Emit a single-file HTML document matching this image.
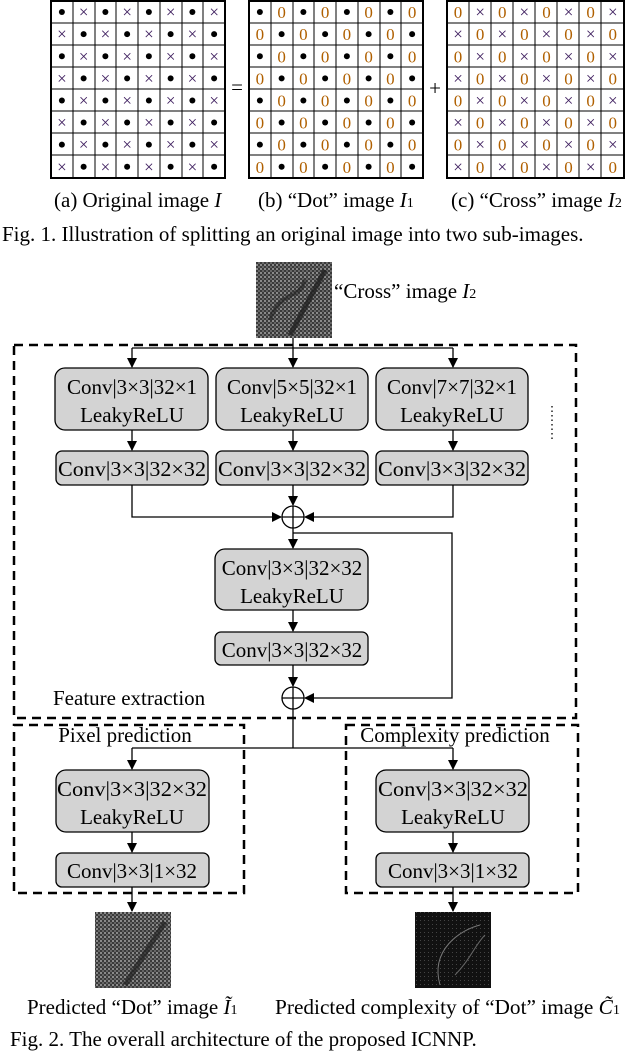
<!DOCTYPE html>
<html><head><style>
body{margin:0;background:#fff;}
svg{display:block;font-family:"Liberation Serif",serif;}
</style></head><body>
<svg width="626" height="1052" viewBox="0 0 626 1052" xmlns="http://www.w3.org/2000/svg">
<defs>
<marker id="a" markerWidth="10" markerHeight="10" refX="9" refY="5" orient="auto" markerUnits="userSpaceOnUse"><path d="M0,0 L10,5 L0,10 z" fill="#000"/></marker>
<pattern id="n1" width="4" height="4" patternUnits="userSpaceOnUse"><rect width="4" height="4" fill="#3a3a3a"/><rect width="2" height="2" fill="#8a8a8a"/><rect x="2" y="2" width="2" height="2" fill="#666"/></pattern>
<pattern id="n2" width="4" height="4" patternUnits="userSpaceOnUse"><rect width="4" height="4" fill="#111"/><rect width="1" height="1" fill="#444"/></pattern>
</defs>
<g stroke="#000" fill="none">
<rect x="51" y="1" width="174" height="177" stroke-width="2"/>
<rect x="249" y="1" width="174" height="177" stroke-width="2"/>
<rect x="447" y="1" width="177" height="177" stroke-width="2"/>
</g>
<g stroke="#000" stroke-width="1">
<path d="M73,1V178M95,1V178M116,1V178M138,1V178M160,1V178M182,1V178M203,1V178 M51,23H225M51,45H225M51,67H225M51,89H225M51,111H225M51,133H225M51,155H225"/>
<path d="M271,1V178M293,1V178M314,1V178M336,1V178M358,1V178M380,1V178M401,1V178 M249,23H423M249,45H423M249,67H423M249,89H423M249,111H423M249,133H423M249,155H423"/>
<path d="M469,1V178M491,1V178M513,1V178M535,1V178M557,1V178M579,1V178M601,1V178 M447,23H624M447,45H624M447,67H624M447,89H624M447,111H624M447,133H624M447,155H624"/>
</g>
<g font-size="17" text-anchor="middle" id="cells"></g>
<text x="237" y="94" font-size="21" text-anchor="middle">=</text>
<text x="435" y="95" font-size="21" text-anchor="middle">+</text>
<g font-size="21">
<text x="54" y="207">(a) Original image <tspan font-style="italic">I</tspan></text>
<text x="258" y="207">(b) “Dot” image <tspan font-style="italic">I</tspan><tspan font-size="14">1</tspan></text>
<text x="451" y="207">(c) “Cross” image <tspan font-style="italic">I</tspan><tspan font-size="14">2</tspan></text>
<text x="2" y="241">Fig. 1. Illustration of splitting an original image into two sub-images.</text>
</g>
<rect x="256" y="262" width="76" height="76" fill="url(#n1)"/>
<path d="M290,335 L325,270" stroke="#222" stroke-width="5" opacity="0.8"/>
<path d="M270,320 C280,290 300,300 305,280" stroke="#222" stroke-width="4" fill="none" opacity="0.6"/>
<text x="334" y="298" font-size="21">“Cross” image <tspan font-style="italic">I</tspan><tspan font-size="14">2</tspan></text>
<g fill="none" stroke="#000" stroke-width="2.5" stroke-dasharray="9,6">
<rect x="14" y="345" width="562" height="373"/>
<rect x="14" y="725" width="230" height="168"/>
<rect x="346" y="725" width="232" height="168"/>
</g>
<g stroke="#000" stroke-width="1.3" fill="none">
<path d="M293,338V367" marker-end="url(#a)"/>
<path d="M132,348H453"/>
<path d="M132,348V367" marker-end="url(#a)"/>
<path d="M453,348V367" marker-end="url(#a)"/>
<path d="M132,430V450" marker-end="url(#a)"/>
<path d="M293,430V450" marker-end="url(#a)"/>
<path d="M453,430V450" marker-end="url(#a)"/>
<path d="M293,485V505" marker-end="url(#a)"/>
<path d="M132,485V517H281" marker-end="url(#a)"/>
<path d="M453,485V517H305" marker-end="url(#a)"/>
<path d="M293,528V548" marker-end="url(#a)"/>
<path d="M293,533H452V698H305" marker-end="url(#a)"/>
<path d="M293,610V631" marker-end="url(#a)"/>
<path d="M293,665V686" marker-end="url(#a)"/>
<path d="M293,709V748M132,748H453"/>
<path d="M132,748V769" marker-end="url(#a)"/>
<path d="M453,748V769" marker-end="url(#a)"/>
<path d="M132,832V852" marker-end="url(#a)"/>
<path d="M453,832V852" marker-end="url(#a)"/>
<path d="M132,887V911" marker-end="url(#a)"/>
<path d="M453,887V911" marker-end="url(#a)"/>
<circle cx="293" cy="517" r="11"/><path d="M282,517H304M293,506V528"/>
<circle cx="293" cy="698" r="11"/><path d="M282,698H304M293,687V709"/>
<path d="M552,406V442" stroke-dasharray="1.5,3"/>
</g>
<g fill="#d3d3d3" stroke="#000" stroke-width="1.3">
<rect x="55" y="368" width="153" height="62" rx="10"/>
<rect x="216" y="368" width="152" height="62" rx="10"/>
<rect x="376" y="368" width="152" height="62" rx="10"/>
<rect x="56" y="451" width="152" height="34" rx="6"/>
<rect x="216" y="451" width="152" height="34" rx="6"/>
<rect x="376" y="451" width="152" height="34" rx="6"/>
<rect x="215" y="549" width="153" height="61" rx="10"/>
<rect x="215" y="632" width="153" height="33" rx="6"/>
<rect x="56" y="770" width="153" height="62" rx="10"/>
<rect x="56" y="853" width="153" height="34" rx="6"/>
<rect x="376" y="770" width="153" height="62" rx="10"/>
<rect x="376" y="853" width="153" height="34" rx="6"/>
</g>
<g font-size="21" text-anchor="middle">
<text x="132" y="394">Conv|3×3|32×1</text><text x="132" y="422">LeakyReLU</text>
<text x="292" y="394">Conv|5×5|32×1</text><text x="292" y="422">LeakyReLU</text>
<text x="452" y="394">Conv|7×7|32×1</text><text x="452" y="422">LeakyReLU</text>
<text x="132" y="476" textLength="148" lengthAdjust="spacingAndGlyphs">Conv|3×3|32×32</text>
<text x="292" y="476" textLength="148" lengthAdjust="spacingAndGlyphs">Conv|3×3|32×32</text>
<text x="452" y="476" textLength="148" lengthAdjust="spacingAndGlyphs">Conv|3×3|32×32</text>
<text x="292" y="575">Conv|3×3|32×32</text><text x="292" y="603">LeakyReLU</text>
<text x="292" y="657">Conv|3×3|32×32</text>
<text x="132" y="796" textLength="150" lengthAdjust="spacingAndGlyphs">Conv|3×3|32×32</text><text x="132" y="824">LeakyReLU</text>
<text x="132" y="878">Conv|3×3|1×32</text>
<text x="453" y="796" textLength="150" lengthAdjust="spacingAndGlyphs">Conv|3×3|32×32</text><text x="453" y="824">LeakyReLU</text>
<text x="453" y="878">Conv|3×3|1×32</text>
<text x="125" y="742">Pixel prediction</text>
<text x="455" y="742">Complexity prediction</text>
</g>
<text x="53" y="705" font-size="21">Feature extraction</text>
<rect x="95" y="912" width="76" height="76" fill="url(#n1)"/>
<path d="M125,985 L165,922" stroke="#222" stroke-width="5" opacity="0.7"/>
<rect x="415" y="912" width="76" height="76" fill="url(#n2)"/>
<path d="M440,985 C430,950 460,930 480,925" stroke="#777" stroke-width="1" fill="none"/>
<path d="M455,975 C470,960 475,945 485,935" stroke="#666" stroke-width="1" fill="none"/>
<g font-size="21">
<text x="27" y="1014">Predicted “Dot” image <tspan font-style="italic">Ĩ</tspan><tspan font-size="14">1</tspan></text>
<text x="275" y="1014" textLength="345" lengthAdjust="spacingAndGlyphs">Predicted complexity of “Dot” image <tspan font-style="italic">C̃</tspan><tspan font-size="14">1</tspan></text>
<text x="10" y="1046">Fig. 2. The overall architecture of the proposed ICNNP.</text>
</g>
<script>
(function(){
var g=document.getElementById('cells'),ns='http://www.w3.org/2000/svg';
function add(x,y,t,col){var e=document.createElementNS(ns,'text');e.setAttribute('x',x);e.setAttribute('y',y);e.setAttribute('fill',col||'#000');e.textContent=t;g.appendChild(e);}
function dot(x,y){var c=document.createElementNS(ns,'circle');c.setAttribute('cx',x);c.setAttribute('cy',y);c.setAttribute('r',3);g.appendChild(c);}
var grids=[[51,21.75],[249,21.75],[447,22.1]];
for(var r=0;r<8;r++)for(var c=0;c<8;c++){
 var isDot=(r+c)%2==0;
 for(var k=0;k<3;k++){
  var x=grids[k][0]+grids[k][1]*(c+0.5),y=1+22.1*(r+0.5);
  if(k==0){ if(isDot)dot(x,y); else add(x,y+5.5,'×','#402060');}
  else if(k==1){ if(isDot)dot(x,y); else add(x,y+6,'0','#b06000');}
  else { if(isDot)add(x,y+6,'0','#b06000'); else add(x,y+5.5,'×','#402060');}
 }
}
})();
</script>
</svg>
</body></html>
